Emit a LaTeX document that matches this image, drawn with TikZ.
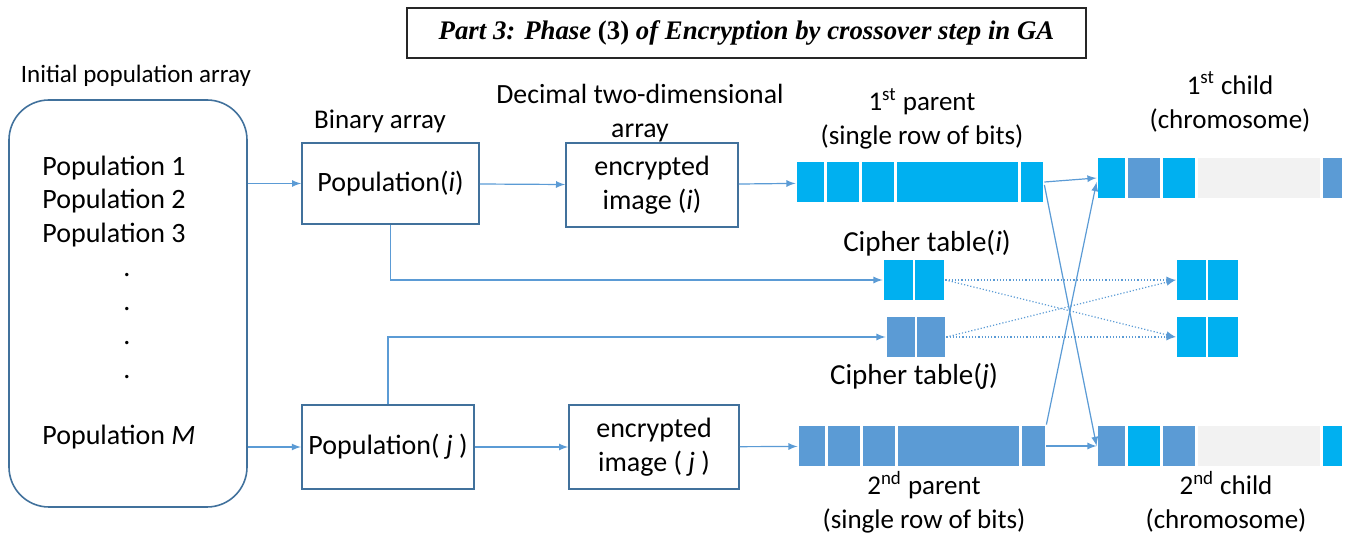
\documentclass[tikz,border=0pt]{standalone}
\usepackage{fontspec}
\setmainfont{Carlito}
\newfontfamily\titlefont{Liberation Serif}
\usetikzlibrary{arrows}

\definecolor{bitA}{HTML}{00B0F0}
\definecolor{bitB}{HTML}{5B9BD5}
\definecolor{bitC}{HTML}{F2F2F2}
\definecolor{frame}{HTML}{41719C}
\definecolor{wire}{HTML}{5B9BD5}

% one row of bits: top, bottom, list of left/right/colour
\newcommand\bitrow[3]{%
  \foreach \l/\r/\c in {#3}
    \filldraw[fill=\c,draw=white,line width=0.6pt] (\l,#1) rectangle (\r,#2);}

\tikzset{
  box/.style={draw=frame,thick,align=center,font=\fontsize{14}{17}\selectfont},
  lbl/.style={align=center,font=\fontsize{13.5}{17}\selectfont},
  item/.style={anchor=west,inner sep=0pt,font=\fontsize{14}{17}\selectfont},
  link/.style={->,>=latex,draw=wire,semithick},
  swap/.style={->,>=latex,draw=wire,densely dotted,semithick}
}

\begin{document}
\begin{tikzpicture}[x=0.5pt,y=-0.5pt]
  \useasboundingbox (0,0) rectangle (1356,539);

  \node[draw=black!85,thick,minimum width=339.5pt,minimum height=25pt,
        font=\titlefont\bfseries\itshape\fontsize{13.4}{15}\selectfont] (title) at (746.5,33)
    {Part 3: Phase {\upshape(3)} of Encryption by crossover step in GA};

  % population pool
  \node[lbl,font=\fontsize{12.5}{15}\selectfont] (poollbl) at (136,76) {Initial population array};
  \node[draw=frame,thick,rounded corners=20pt,minimum width=119pt,minimum height=203.5pt] (pool) at (128,303.5) {};
  \node[item] (pop1) at (42,168) {Population 1};
  \node[item] (pop2) at (42,201) {Population 2};
  \node[item] (pop3) at (42,235) {Population 3};
  \foreach \y in {275,309,343,377}
    \node[font=\fontsize{14}{17}\selectfont,inner sep=0pt] at (127,\y) {.};
  \node[item] (popM) at (42,437) {Population \textit{M}};

  % binary and decimal arrays
  \node[lbl] (binlbl) at (380,121) {Binary array};
  \node[box,minimum width=88.5pt,minimum height=40.5pt] (popi) at (390.5,183.5) {\raisebox{1.5pt}{Population(\textit{i})}};
  \node[box,minimum width=86pt,minimum height=42pt] (popj) at (388,447) {Population( \textit{j} )};
  \node[lbl,font=\fontsize{13.9}{17}\selectfont] (declbl) at (640,113) {Decimal two-dimensional\\array};
  \node[box,minimum width=86pt,minimum height=42pt] (enci) at (652,185) {\raisebox{1.5pt}{encrypted}\\\raisebox{1.5pt}{image (\textit{i})}};
  \node[box,minimum width=85pt,minimum height=42pt] (encj) at (654,447) {encrypted\\image ( \textit{j} )};

  % parents
  \node[lbl] (p1lbl) at (922,119) {1\textsuperscript{st} parent\\(single row of bits)};
  \node[minimum width=124pt,minimum height=21pt,inner sep=0pt] (p1) at (920,182) {};
  \bitrow{161}{203}{796/825/bitA,826/860/bitA,861/895/bitA,896/1019/bitA,1020/1044/bitA}
  \node[minimum width=124pt,minimum height=21pt,inner sep=0pt] (p2) at (922,446) {};
  \bitrow{425}{467}{798/826/bitB,827/861/bitB,862/896/bitB,897/1020/bitB,1021/1046/bitB}
  \node[lbl] (p2lbl) at (924,502) {2\textsuperscript{nd} parent\\(single row of bits)};

  % children
  \node[lbl] (c1lbl) at (1230,102) {1\textsuperscript{st} child\\(chromosome)};
  \node[minimum width=123pt,minimum height=21pt,inner sep=0pt] (c1) at (1220,178) {};
  \bitrow{157}{199}{1097/1126/bitA,1127/1161/bitB,1162/1196/bitA,1197/1321/bitC,1322/1343/bitB}
  \node[minimum width=123pt,minimum height=21pt,inner sep=0pt] (c2) at (1220,446) {};
  \bitrow{425}{467}{1097/1126/bitB,1127/1161/bitA,1162/1196/bitB,1197/1321/bitC,1322/1343/bitA}
  \node[lbl] (c2lbl) at (1226,502) {2\textsuperscript{nd} child\\(chromosome)};

  % cipher tables
  \node[lbl,font=\fontsize{14.5}{17}\selectfont] (cilbl) at (927,243) {Cipher table(\textit{i})};
  \node[minimum width=31pt,minimum height=21pt,inner sep=0pt] (ci) at (914,280) {};
  \bitrow{259}{301}{883/914/bitA,914/945/bitA}
  \node[minimum width=30pt,minimum height=21pt,inner sep=0pt] (cj) at (916,337) {};
  \bitrow{316}{358}{886/916/bitB,916/946/bitB}
  \node[lbl,font=\fontsize{14.5}{17}\selectfont] (cjlbl) at (914,376) {Cipher table(\textit{j})};
  \node[minimum width=31.5pt,minimum height=21pt,inner sep=0pt] (ti) at (1207.5,280) {};
  \bitrow{259}{301}{1176/1207/bitA,1207/1239/bitA}
  \node[minimum width=31.5pt,minimum height=21pt,inner sep=0pt] (tj) at (1207.5,337) {};
  \bitrow{316}{358}{1176/1207/bitA,1207/1239/bitA}

  % connectors
  \draw[link] (pool.east |- popi.west) -- (popi.west);
  \draw[link] (pool.east |- popj.west) -- (popj.west);
  \draw[link] (popi) -- (enci);
  \draw[link] (popj) -- (encj);
  \draw[link] (enci) -- (p1);
  \draw[link] (encj) -- (p2);
  \draw[link] (popi.south) |- (ci.west);
  \draw[link] (popj.north) |- (cj.west);
  \draw[link] (p1.east) -- (c1.west);
  \draw[link] ([yshift=-1.5pt]p1.east) -- (c2.west);
  \draw[link] (p2.north east) -- ([yshift=-2pt]c1.west);
  \draw[link] (p2.east) -- (c2.west);
  \draw[swap] (ci.east) -- (ti.west);
  \draw[swap] (ci.east) -- (tj.west);
  \draw[swap] (cj.east) -- (tj.west);
  \draw[swap] (cj.east) -- (ti.west);
\end{tikzpicture}
\end{document}
